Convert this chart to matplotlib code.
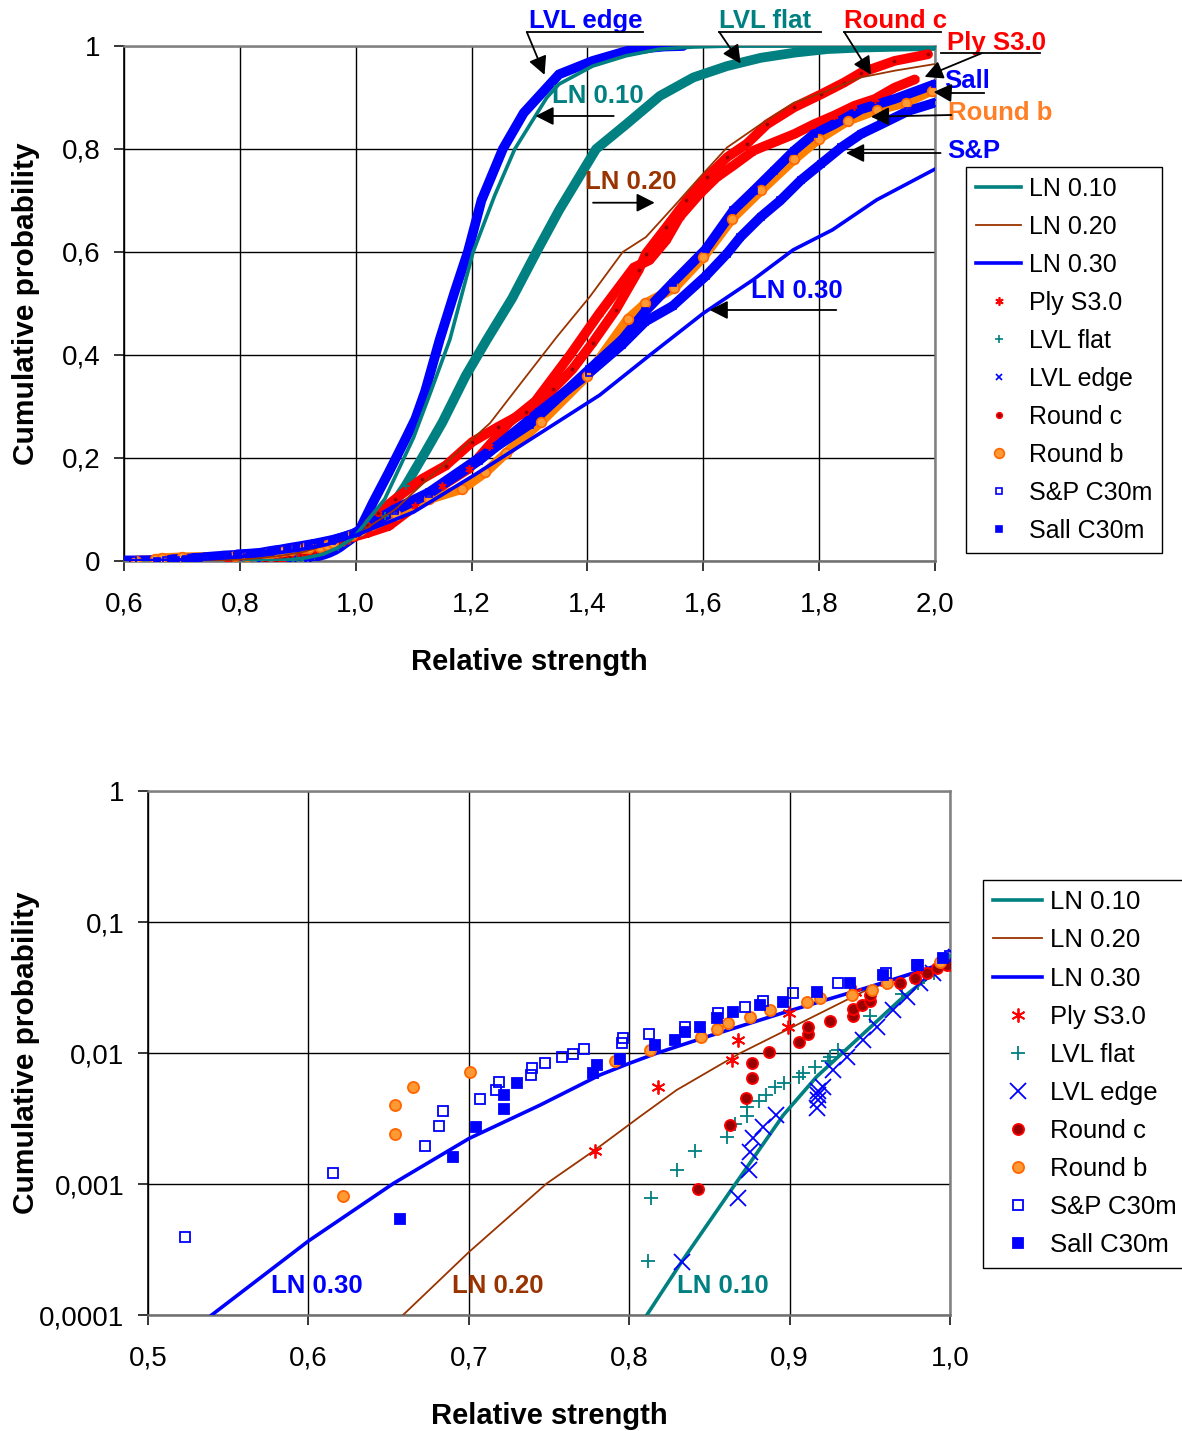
import matplotlib
matplotlib.use('Agg')
import matplotlib.pyplot as plt

plt.rcParams['font.family'] = ['Liberation Sans', 'DejaVu Sans']

# ---- lognormal reference curves ----
ln10_x = [0.811, 0.8327, 0.8649, 0.8961, 0.9169, 0.9439, 0.9688, 0.9896, 1.0, 1.05, 1.1, 1.13,
          1.1625, 1.2027, 1.24, 1.2746, 1.33, 1.351, 1.409, 1.467, 1.525, 1.583, 1.65, 2.0]
ln10_y = [0.0001, 0.000255, 0.00095, 0.00336, 0.0066, 0.0133, 0.0254, 0.0406, 0.05, 0.12, 0.24, 0.33,
          0.43, 0.6, 0.71, 0.8, 0.9, 0.926, 0.961, 0.981, 0.994, 0.998, 1.0, 1.0]

ln20_x = [0.659, 0.7003, 0.7486, 0.7787, 0.8067, 0.8296, 0.869, 0.9107, 0.948, 0.9896, 1.0, 1.068,
          1.13, 1.2, 1.232, 1.289, 1.347, 1.404, 1.461, 1.501, 1.548, 1.594, 1.641, 1.699, 1.757,
          1.814, 1.872, 1.930, 2.0]
ln20_y = [0.0001, 0.000304, 0.00101, 0.00182, 0.00327, 0.00522, 0.00995, 0.0179, 0.0303, 0.0456, 0.05, 0.10,
          0.165, 0.235, 0.268, 0.351, 0.435, 0.513, 0.6, 0.629, 0.687, 0.745, 0.803, 0.848, 0.890,
          0.913, 0.939, 0.952, 0.965]

ln30_x = [0.5397, 0.6, 0.653, 0.7003, 0.7444, 0.7818, 0.8001, 0.817, 0.85, 0.9, 0.95, 1.0, 1.1, 1.202,
          1.3, 1.421, 1.508, 1.600, 1.686, 1.755, 1.823, 1.899, 2.0]
ln30_y = [0.0001, 0.000367, 0.00101, 0.00223, 0.0040, 0.0068, 0.00834, 0.00995, 0.0135, 0.021, 0.032, 0.05,
          0.095, 0.165, 0.235, 0.322, 0.40, 0.481, 0.546, 0.604, 0.643, 0.701, 0.761]

# ---- test series ----
ply_x = [0.7787, 0.8181, 0.8638, 0.868, 0.8988, 0.8996, 0.9408, 0.96, 0.98, 1.0, 1.022, 1.057, 1.103,
         1.149, 1.195, 1.230, 1.265, 1.31, 1.37, 1.42, 1.48, 1.507, 1.536, 1.559, 1.594, 1.623, 1.652,
         1.687, 1.722, 1.757, 1.791, 1.826, 1.861, 1.896, 1.930, 1.965]
ply_y = [0.00179, 0.00547, 0.00885, 0.01257, 0.0159, 0.0201, 0.0294, 0.035, 0.042, 0.048, 0.055, 0.068, 0.107,
         0.146, 0.179, 0.224, 0.269, 0.31, 0.40, 0.48, 0.57, 0.584, 0.623, 0.668, 0.713, 0.745, 0.768,
         0.797, 0.813, 0.829, 0.848, 0.865, 0.884, 0.897, 0.919, 0.935]

flat_x = [0.8115, 0.8134, 0.8296, 0.841, 0.8608, 0.866, 0.8733, 0.8733, 0.8811, 0.8851, 0.891, 0.8967,
          0.9058, 0.9085, 0.9158, 0.9241, 0.9252, 0.9304, 0.95, 0.97, 0.98, 0.99, 1.0, 1.051, 1.086,
          1.12, 1.15, 1.19, 1.226, 1.27, 1.312, 1.351, 1.415, 1.467, 1.525, 1.583, 1.641, 1.699,
          1.757, 1.814, 1.872, 1.95, 2.0]
flat_y = [0.000258, 0.00078, 0.00129, 0.00179, 0.0023, 0.00285, 0.00332, 0.00389, 0.00432, 0.00478, 0.00547,
          0.00586, 0.00659, 0.0070, 0.00786, 0.00868, 0.00937, 0.01054, 0.019, 0.028, 0.034, 0.041, 0.05,
          0.088, 0.146, 0.211, 0.27, 0.36, 0.429, 0.51, 0.6, 0.681, 0.8, 0.848, 0.903, 0.939, 0.961,
          0.977, 0.987, 0.994, 0.997, 0.999, 1.0]

edge_x = [0.8327, 0.868, 0.8748, 0.8753, 0.877, 0.8836, 0.8915, 0.917, 0.9175, 0.918, 0.918, 0.921,
          0.9273, 0.9356, 0.946, 0.9543, 0.9647, 0.973, 0.9813, 0.9896, 0.998, 1.004, 1.03, 1.057,
          1.086, 1.103, 1.12, 1.145, 1.17, 1.1935, 1.217, 1.254, 1.29, 1.351, 1.409, 1.467, 1.513,
          1.533, 1.565]
edge_y = [0.000252, 0.00078, 0.00129, 0.00177, 0.00223, 0.00274, 0.00336, 0.0038, 0.0044, 0.0048, 0.0051,
          0.0055, 0.0074, 0.0094, 0.0126, 0.0159, 0.0213, 0.0269, 0.034, 0.0406, 0.0484, 0.0543, 0.114,
          0.172, 0.237, 0.276, 0.33, 0.43, 0.52, 0.6, 0.7, 0.8, 0.87, 0.945, 0.971, 0.99, 0.997,
          0.999, 1.0]

rc_x = [0.843, 0.8628, 0.8728, 0.8768, 0.8768, 0.8872, 0.906, 0.9113, 0.9113, 0.9252, 0.9397, 0.9397,
        0.945, 0.95, 0.95, 0.9688, 0.978, 0.9855, 0.9917, 0.998, 1.02, 1.039, 1.068, 1.114, 1.155,
        1.201, 1.245, 1.294, 1.340, 1.374, 1.409, 1.449, 1.489, 1.501, 1.536, 1.571, 1.606, 1.641,
        1.675, 1.710, 1.757, 1.803, 1.843, 1.872, 1.930, 1.988]
rc_y = [0.00091, 0.00282, 0.00456, 0.00648, 0.00834, 0.0101, 0.0121, 0.0139, 0.0157, 0.0175, 0.0192, 0.0215,
        0.0232, 0.0249, 0.0277, 0.034, 0.0372, 0.0406, 0.0443, 0.047, 0.07, 0.094, 0.12, 0.159, 0.185,
        0.231, 0.26, 0.29, 0.333, 0.372, 0.424, 0.488, 0.566, 0.597, 0.648, 0.700, 0.745, 0.784,
        0.810, 0.848, 0.881, 0.906, 0.929, 0.948, 0.971, 0.984]

rb_x = [0.6214, 0.654, 0.654, 0.6654, 0.7007, 0.791, 0.813, 0.845, 0.8545, 0.8617, 0.8753, 0.8878,
        0.9107, 0.919, 0.9387, 0.9512, 0.9605, 0.9938, 1.07, 1.126, 1.184, 1.224, 1.26, 1.32, 1.40,
        1.47, 1.50, 1.55, 1.60, 1.65, 1.70, 1.757, 1.80, 1.85, 1.90, 1.95, 1.994]
rb_y = [0.00081, 0.00239, 0.0040, 0.00553, 0.0072, 0.00873, 0.0105, 0.0133, 0.0152, 0.0169, 0.0187, 0.0213,
        0.0247, 0.0261, 0.0277, 0.0303, 0.034, 0.0498, 0.09, 0.12, 0.14, 0.172, 0.21, 0.27, 0.36,
        0.47, 0.50, 0.53, 0.59, 0.665, 0.72, 0.78, 0.82, 0.855, 0.876, 0.89, 0.913]

sp_x = [0.523, 0.6155, 0.6727, 0.6816, 0.6837, 0.707, 0.717, 0.719, 0.7386, 0.7396, 0.7475, 0.7579,
        0.7648, 0.772, 0.7953, 0.796, 0.8125, 0.8348, 0.8556, 0.8722, 0.8836, 0.9023, 0.93, 0.96,
        0.98, 1.0, 1.068, 1.126, 1.213, 1.317, 1.403, 1.46, 1.50, 1.547, 1.604, 1.641, 1.664, 1.699,
        1.733, 1.768, 1.803, 1.838, 1.872, 1.907, 1.954, 2.0]
sp_y = [0.000396, 0.00121, 0.00196, 0.00277, 0.00361, 0.00443, 0.00522, 0.00604, 0.00679, 0.00764, 0.00834,
        0.00927, 0.00982, 0.01073, 0.012, 0.0131, 0.014, 0.0159, 0.0201, 0.0226, 0.0251, 0.0285, 0.034,
        0.041, 0.047, 0.055, 0.098, 0.13, 0.195, 0.29, 0.365, 0.42, 0.465, 0.495, 0.553, 0.597, 0.629,
        0.668, 0.700, 0.739, 0.771, 0.803, 0.829, 0.848, 0.874, 0.890]

sall_x = [0.657, 0.6903, 0.7046, 0.7221, 0.7221, 0.7302, 0.7776, 0.78, 0.7942, 0.816, 0.8283, 0.8348,
          0.844, 0.8545, 0.8649, 0.8815, 0.8961, 0.9169, 0.9377, 0.9584, 0.9792, 0.9958, 1.068, 1.126,
          1.213, 1.30, 1.403, 1.46, 1.50, 1.547, 1.604, 1.652, 1.687, 1.722, 1.757, 1.791, 1.826,
          1.872, 1.930, 2.0]
sall_y = [0.00054, 0.00162, 0.00271, 0.00372, 0.00478, 0.00587, 0.0070, 0.0081, 0.00895, 0.0115, 0.0126,
          0.01455, 0.0159, 0.0184, 0.0207, 0.0232, 0.0247, 0.0294, 0.034, 0.0394, 0.047, 0.0528, 0.101,
          0.133, 0.2, 0.265, 0.372, 0.43, 0.485, 0.54, 0.605, 0.681, 0.719, 0.758, 0.797, 0.829,
          0.848, 0.877, 0.897, 0.926]

top_xticks = [0.6, 0.8, 1.0, 1.2, 1.4, 1.6, 1.8, 2.0]
top_xlabels = ['0,6', '0,8', '1,0', '1,2', '1,4', '1,6', '1,8', '2,0']
top_yticks = [0, 0.2, 0.4, 0.6, 0.8, 1.0]
top_ylabels = ['0', '0,2', '0,4', '0,6', '0,8', '1']
bot_xticks = [0.5, 0.6, 0.7, 0.8, 0.9, 1.0]
bot_xlabels = ['0,5', '0,6', '0,7', '0,8', '0,9', '1,0']
bot_yticks = [0.0001, 0.001, 0.01, 0.1, 1]
bot_ylabels = ['0,0001', '0,001', '0,01', '0,1', '1']

BLUE = '#0000FF'
TEAL = '#008080'
RED = '#FF0000'
BROWN = '#993300'
ORANGE = '#FF6600'

# series styles: label, x, y, band colour, marker, face, edge, top size, bottom size
series = [
    ('Ply S3.0', ply_x, ply_y, RED, (6, 2, 0), RED, RED, 6, 10),
    ('LVL flat', flat_x, flat_y, TEAL, '+', TEAL, TEAL, 6, 10),
    ('LVL edge', edge_x, edge_y, BLUE, 'x', BLUE, BLUE, 5, 11),
    ('Round c', rc_x, rc_y, RED, 'o', '#990000', RED, 4, 8),
    ('Round b', rb_x, rb_y, '#FF8000', 'o', '#FF9933', ORANGE, 7, 8),
    ('S&P C30m', sp_x, sp_y, BLUE, 's', 'none', BLUE, 4, 7),
    ('Sall C30m', sall_x, sall_y, BLUE, 's', BLUE, BLUE, 4, 7),
]

fig = plt.figure(figsize=(11.82, 14.31), dpi=100)
ax1 = fig.add_axes([0.10491, 0.60797, 0.68613, 0.35989])
ax2 = fig.add_axes([0.12521, 0.08106, 0.67851, 0.36618])


def style_axes(ax):
    ax.grid(True, color='black', lw=1.0)
    ax.set_axisbelow(True)
    for s in ['top', 'right']:
        ax.spines[s].set_color('#808080')
        ax.spines[s].set_linewidth(1.8)
    ax.spines['bottom'].set_color('#707070')
    ax.spines['bottom'].set_linewidth(1.8)
    ax.spines['left'].set_color('black')
    ax.spines['left'].set_linewidth(1.2)
    ax.tick_params(axis='both', direction='out', length=7, width=1.1, labelsize=20)
    ax.tick_params(axis='x', pad=15)
    ax.tick_params(axis='y', pad=10)


# ---------- top panel ----------
handles1 = []
for lbl, xs, ys, lc, lw in [('LN 0.10', ln10_x, ln10_y, TEAL, 2.6),
                            ('LN 0.20', ln20_x, ln20_y, BROWN, 1.3),
                            ('LN 0.30', ln30_x, ln30_y, BLUE, 2.6)]:
    h, = ax1.plot(xs, ys, color=lc, lw=lw, label=lbl, zorder=6)
    handles1.append(h)

for lbl, xs, ys, c, m, fc, ec, s_top, s_bot in series:
    ax1.plot(xs, ys, color=c, lw=7, solid_capstyle='round', solid_joinstyle='round', zorder=3)
    h, = ax1.plot(xs, ys, ls='none', marker=m, ms=s_top, mfc=fc, mec=ec, mew=1.2, label=lbl, zorder=4)
    handles1.append(h)

ax1.set_xlim(0.6, 2.0)
ax1.set_ylim(0, 1)
ax1.set_xticks(top_xticks)
ax1.set_xticklabels(top_xlabels)
ax1.set_yticks(top_yticks)
ax1.set_yticklabels(top_ylabels)
style_axes(ax1)
ax1.set_xlabel('Relative strength', fontsize=21, fontweight='bold', labelpad=22)
ax1.set_ylabel('Cumulative probability', fontsize=21.5, fontweight='bold')
ax1.yaxis.set_label_coords(-0.1036, 0.5)

arrow_kw = dict(arrowstyle='-|>,head_length=0.55,head_width=0.28', color='black', lw=1.3,
                shrinkA=0, shrinkB=0, mutation_scale=20)


def callout(ax, text, color, tx, ty, start, tip, uline=None):
    ax.text(tx, ty, text, color=color, fontsize=18.5, fontweight='bold', ha='center', va='center',
            clip_on=False, zorder=8)
    if uline is not None:
        ax.plot(uline[0], uline[1], color='black', lw=1.3, clip_on=False, zorder=8)
    ax.annotate('', xy=tip, xytext=start, arrowprops=arrow_kw, annotation_clip=False, zorder=8)


callout(ax1, 'LVL edge', BLUE, 1.3966, 1.0485, (1.2953, 1.0272), (1.326, 0.944),
        ([1.2953, 1.4954], [1.0272, 1.0272]))
callout(ax1, 'LVL flat', TEAL, 1.706, 1.0485, (1.6276, 1.0272), (1.6645, 0.966),
        ([1.6276, 1.8032], [1.0272, 1.0272]))
callout(ax1, 'Round c', RED, 1.931, 1.0485, (1.8433, 1.0272), (1.8897, 0.944),
        ([1.8433, 2.0096], [1.0272, 1.0272]))
callout(ax1, 'Ply S3.0', RED, 2.106, 1.006, (2.0803, 0.9858), (1.982, 0.940),
        ([2.0096, 2.1821], [0.9858, 0.9858]))
callout(ax1, 'Sall', BLUE, 2.056, 0.932, (2.0286, 0.9087), (1.9975, 0.9107),
        ([2.0061, 2.0838], [0.9087, 0.9087]))
callout(ax1, 'Round b', '#FF7F27', 2.113, 0.870, (2.0282, 0.866), (1.8895, 0.8627))
callout(ax1, 'S&P', BLUE, 2.067, 0.796, (2.0096, 0.7922), (1.8464, 0.7922))
callout(ax1, 'LN 0.10', TEAL, 1.418, 0.903, (1.4454, 0.8641), (1.3103, 0.8641))
callout(ax1, 'LN 0.20', BROWN, 1.475, 0.736, (1.4097, 0.6957), (1.5161, 0.6957))
callout(ax1, 'LN 0.30', BLUE, 1.761, 0.524, (1.8296, 0.4874), (1.6110, 0.4874))

fig.legend(handles=handles1, loc='upper left', bbox_to_anchor=(0.81726, 0.88330),
           fontsize=18, frameon=True, fancybox=False, edgecolor='black', framealpha=1,
           handlelength=1.8, handletextpad=0.3, labelspacing=0.56, borderpad=0.4,
           borderaxespad=0)

# ---------- bottom panel ----------
handles2 = []
for lbl, xs, ys, lc, lw in [('LN 0.10', ln10_x, ln10_y, TEAL, 2.6),
                            ('LN 0.20', ln20_x, ln20_y, BROWN, 1.3),
                            ('LN 0.30', ln30_x, ln30_y, BLUE, 2.6)]:
    h, = ax2.plot(xs, ys, color=lc, lw=lw, label=lbl, zorder=3)
    handles2.append(h)

for lbl, xs, ys, c, m, fc, ec, s_top, s_bot in series:
    h, = ax2.plot(xs, ys, ls='none', marker=m, ms=s_bot, mfc=fc, mec=ec, mew=1.3, label=lbl, zorder=4)
    handles2.append(h)

ax2.set_yscale('log')
ax2.set_xlim(0.5, 1.0)
ax2.set_ylim(0.0001, 1)
ax2.set_xticks(bot_xticks)
ax2.set_xticklabels(bot_xlabels)
ax2.set_yticks(bot_yticks)
ax2.set_yticklabels(bot_ylabels)
ax2.yaxis.set_minor_locator(matplotlib.ticker.NullLocator())
style_axes(ax2)
ax2.set_xlabel('Relative strength', fontsize=21, fontweight='bold', labelpad=22)
ax2.set_ylabel('Cumulative probability', fontsize=21.5, fontweight='bold')
ax2.yaxis.set_label_coords(-0.1347, 0.5)

ax2.text(0.6054, 0.000166, 'LN 0.30', color=BLUE, fontsize=18.5, fontweight='bold', ha='center', va='center')
ax2.text(0.7182, 0.000166, 'LN 0.20', color=BROWN, fontsize=18.5, fontweight='bold', ha='center', va='center')
ax2.text(0.8585, 0.000166, 'LN 0.10', color=TEAL, fontsize=18.5, fontweight='bold', ha='center', va='center')

fig.legend(handles=handles2, loc='upper left', bbox_to_anchor=(0.83164, 0.38505),
           fontsize=18.5, frameon=True, fancybox=False, edgecolor='black', framealpha=1,
           handlelength=1.9, handletextpad=0.3, labelspacing=0.55, borderpad=0.4,
           borderaxespad=0)

fig.savefig('out.png', dpi=100)
